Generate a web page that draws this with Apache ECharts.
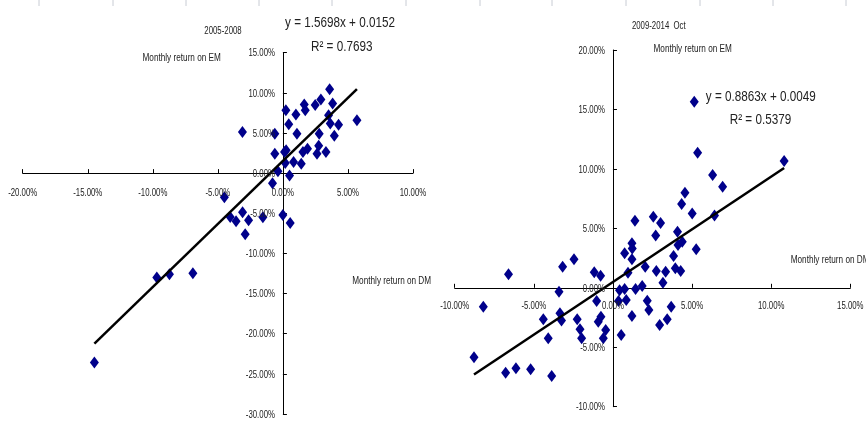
<!DOCTYPE html>
<html>
<head>
<meta charset="utf-8">
<title>EM vs DM monthly returns</title>
<script src="https://cdn.jsdelivr.net/npm/echarts@6/dist/echarts.min.js"></script>
<style>
  html, body { margin: 0; padding: 0; background: #fff; }
  #chart { width: 866px; height: 421px; }
</style>
</head>
<body>
<div id="chart"></div>
<script>
// Monthly returns (%), DM on x, EM on y
const dm0508 = [-14.49, -9.69, -8.72, -6.92, -4.5, -4.05, -3.6, -3.1, -2.9, -2.64, -1.54, 0, 0.56,
  -3.11, -0.62, -0.62, 0.13, 0.23, 0.45, 1.0, 1.08, 1.64, 1.72, 2.48, 2.92, 3.59, 3.82, 3.51, 3.64,
  4.28, 3.95, 2.79, 2.75, 2.62, 3.31, 1.89, 1.54, 1.41, 0.82, 0.18, -0.38, 0.51, 5.69, -0.8, 0.25];
const em0508 = [-23.6, -13.0, -12.58, -12.46, -3.0, -5.45, -6.0, -4.87, -7.6, -5.87, -5.5, -5.2, -6.2,
  5.13, 4.92, 2.42, 2.63, 7.84, 6.1, 7.3, 4.92, 8.55, 7.84, 8.5, 9.17, 10.45, 8.67, 7.21, 6.17,
  6.04, 4.65, 4.92, 3.4, 2.42, 2.63, 3.05, 2.63, 1.17, 1.38, 1.25, 0.25, -0.29, 6.59, -1.25, 2.84];

const dm0914 = [-8.78, -8.19, -6.78, -6.6, -6.13, -5.2, -4.4, -4.09, -3.87, -3.41, -3.35, -3.25,
  -3.18, -2.46, -2.26, -2.08, -1.98, -1.18, -1.03, -0.93, -0.78, -0.76, -0.61, -0.46, 0.42, 0.74,
  0.35, 0.84, 0.52, 0.74, 0.95, 1.2, 1.22, 1.2, 1.39, 1.43, 1.2, 1.85, 2.04, 2.17, 2.27, 2.55, 2.7,
  3.01, 2.74, 3.33, 3.16, 2.95, 3.43, 3.68, 3.83, 3.94, 4.28, 4.08, 4.11, 4.38, 4.34, 4.55, 5.01,
  5.26, 6.42, 6.3, 6.93, 5.14, 5.35, 10.82];
const em0914 = [-5.85, -1.59, -7.14, 1.15, -6.77, -6.86, -2.65, -4.25, -7.42, -0.33, -2.15, -2.75,
  1.78, 2.4, -2.65, -3.49, -4.25, 1.3, -1.1, -2.85, 1.02, -2.43, -4.25, -3.55, -0.2, -0.1,
  -1.1, -1.03, -3.97, 2.9, 1.27, 3.74, 3.3, 2.4, 5.64, -0.1, -2.37, 0.15, 1.78, -1.08, -1.87, 5.98, 4.4,
  5.45, 1.41, 1.35, 0.43, -3.13, -2.65, -1.59, 2.67, 1.64, 1.41, 4.72, 3.6, 3.88, 7.05, 8.0, 6.24,
  3.24, 6.08, 9.49, 8.5, 15.65, 11.36, 10.66];

// Tick values (%) for each axis
const xTicks0508 = [-20, -15, -10, -5, 0, 5, 10];
const yTicks0508 = [-30, -25, -20, -15, -10, -5, 0, 5, 10, 15];
const xTicks0914 = [-10, -5, 0, 5, 10, 15];
const yTicks0914 = [-10, -5, 0, 5, 10, 15, 20];

// Fitted trend lines: y = slope * x + intercept (returns as fractions)
const fit0508 = { slope: 1.5698, intercept: 0.0152, r2: 0.7693 };
const fit0914 = { slope: 0.8863, intercept: 0.0049, r2: 0.5379 };

const periodLabels = ['2005-2008', '2009-2014  Oct'];
const emAxisName = 'Monthly return on EM';
const dmAxisName = 'Monthly return on DM';

const pairs = (xs, ys) => xs.map((x, i) => [x, ys[i]]);
const trend = (xs, f) => {
  const lo = Math.min(...xs), hi = Math.max(...xs);
  return [[lo, f.slope * lo + f.intercept * 100], [hi, f.slope * hi + f.intercept * 100]];
};
const eqText = f => 'y = ' + f.slope.toFixed(4) + 'x + ' + f.intercept.toFixed(4);
const r2Text = f => 'R² = ' + f.r2.toFixed(4);
const pct = v => v.toFixed(2) + '%';

const FONT = "'Liberation Sans', Arial, sans-serif";
const NARROW = 0.78; // horizontal squeeze giving a condensed face

const panels = [
  { grid: { left: 22.7, top: 52.7, width: 390.3, height: 361.3 }, xt: xTicks0508, yt: yTicks0508, xLabelGap: 20 },
  { grid: { left: 454.7, top: 50, width: 395.6, height: 356.7 }, xt: xTicks0914, yt: yTicks0914, xLabelGap: 18 }
];
const first = a => a[0], last = a => a[a.length - 1];

// Axes cross at the origin: shift each axis from the grid edge to the zero line
function xAxisCfg(i) {
  const p = panels[i], yt = p.yt;
  const shift = (0 - first(yt)) / (last(yt) - first(yt)) * p.grid.height;
  return {
    type: 'value', gridIndex: i, min: first(p.xt), max: last(p.xt), interval: 5,
    position: 'bottom', offset: -shift,
    axisLine: { onZero: false, lineStyle: { color: '#000', width: 1 } },
    axisTick: { inside: true, length: 4, lineStyle: { color: '#000' } },
    axisLabel: { show: false },
    splitLine: { show: false }
  };
}
function yAxisCfg(i) {
  const p = panels[i], xt = p.xt;
  const shift = (0 - first(xt)) / (last(xt) - first(xt)) * p.grid.width;
  return {
    type: 'value', gridIndex: i, min: first(p.yt), max: last(p.yt), interval: 5,
    position: 'left', offset: -shift,
    axisLine: { show: true, onZero: false, lineStyle: { color: '#000', width: 1 } },
    axisTick: { show: true, inside: true, length: 4, lineStyle: { color: '#000' } },
    axisLabel: { show: false },
    splitLine: { show: false }
  };
}
function scatter(i, xs, ys) {
  return {
    type: 'scatter', xAxisIndex: i, yAxisIndex: i,
    data: pairs(xs, ys), symbol: 'diamond', symbolSize: [9, 12],
    itemStyle: { color: '#00008b', opacity: 1 }, z: 3
  };
}
function trendSeries(i, xs, f) {
  return {
    type: 'line', xAxisIndex: i, yAxisIndex: i, data: trend(xs, f),
    symbol: 'none', lineStyle: { color: '#000', width: 2.5 }, z: 4, silent: true
  };
}
function txt(x, y, text, size, align, squeeze) {
  return {
    type: 'text', x, y, z: 10, scaleX: squeeze || NARROW,
    style: { text, fill: '#222', font: size + 'px ' + FONT, align: align || 'center', verticalAlign: 'middle' }
  };
}

// faint border stubs along the top edge
const stubs = [];
[39, 113, 186, 259, 332, 406, 480, 552, 626, 700, 773, 846].forEach(x => {
  stubs.push({ type: 'line', shape: { x1: x, y1: 0, x2: x, y2: 6 }, style: { stroke: '#c8ccd4', lineWidth: 1 } });
});

const chart = echarts.init(document.getElementById('chart'), null, { renderer: 'canvas' });
chart.setOption({
  backgroundColor: '#fff',
  animation: false,
  grid: panels.map(p => Object.assign({ containLabel: false, outerBoundsMode: 'none' }, p.grid)),
  xAxis: [xAxisCfg(0), xAxisCfg(1)],
  yAxis: [yAxisCfg(0), yAxisCfg(1)],
  series: [
    scatter(0, dm0508, em0508), trendSeries(0, dm0508, fit0508),
    scatter(1, dm0914, em0914), trendSeries(1, dm0914, fit0914)
  ]
});

// Tick labels in a condensed face, placed through each axis scale
const tickLabels = [];
panels.forEach((p, i) => {
  const x0 = chart.convertToPixel({ xAxisIndex: i }, 0);
  const y0 = chart.convertToPixel({ yAxisIndex: i }, 0);
  p.xt.forEach(v => tickLabels.push(txt(chart.convertToPixel({ xAxisIndex: i }, v), y0 + p.xLabelGap, pct(v), 10)));
  p.yt.forEach(v => tickLabels.push(txt(x0 - 8, chart.convertToPixel({ yAxisIndex: i }, v) + 1, pct(v), 10, 'right')));
});

chart.setOption({
  graphic: stubs.concat(tickLabels, [
    txt(223, 31.7, periodLabels[0], 10),
    txt(181.7, 58.3, emAxisName, 10, 'center', 0.82),
    txt(340, 23, eqText(fit0508), 15),
    txt(341.7, 46.5, r2Text(fit0508), 15),
    txt(391.7, 281, dmAxisName, 10, 'center', 0.82),
    txt(658.8, 26.7, periodLabels[1], 10),
    txt(692.7, 49.3, emAxisName, 10, 'center', 0.82),
    txt(760.8, 97.3, eqText(fit0914), 15),
    txt(760.5, 120, r2Text(fit0914), 15),
    txt(790.7, 260, dmAxisName, 10, 'left', 0.82)
  ])
});
</script>
</body>
</html>
